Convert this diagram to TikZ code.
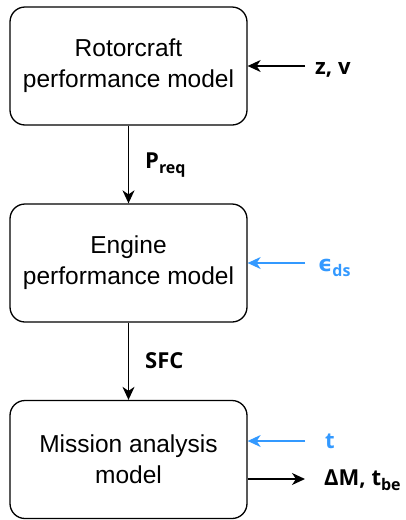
\documentclass[tikz,border=0pt]{standalone}
\usepackage{fontspec}
\setmainfont{Liberation Sans}
\newfontfamily\lblfont{Open Sans}
\newfontfamily\epsfont{DejaVu Sans}
\usetikzlibrary{arrows.meta}
\definecolor{dioblue}{RGB}{51,153,255}
\newcommand{\mysub}[1]{\raisebox{-5pt}{\fontsize{16}{16}\selectfont #1}}
\begin{document}
\begin{tikzpicture}[x=1pt,y=-1pt,
  box/.style={draw=black, line width=1.3pt, rounded corners=15pt, minimum width=237pt, minimum height=118pt, align=center, inner sep=0pt, font=\fontsize{24.5}{31}\selectfont},
  lbl/.style={anchor=base west, inner sep=0pt, font=\lblfont\bfseries\fontsize{22}{24}\selectfont},
  conn/.style={line width=1.3pt, -{Stealth[length=13pt,width=12pt,inset=4pt]}}]
\useasboundingbox (0,0) rectangle (406,520);
\node[box] (rot) at (128.5,66) {Rotorcraft\\performance model};
\node[box] (eng) at (128.5,263) {Engine\\performance model};
\node[box] (mis) at (128.5,459.5) {Mission analysis\\model};
\coordinate (zvin) at (305,66);
\coordinate (epsin) at (305,263);
\coordinate (tin) at (305,441);
\coordinate (out) at (305,479);
\node[lbl] (zv) at (315,74) {z, v};
\node[lbl] (preq) at (145,168) {P\mysub{req}};
\node[lbl, text=dioblue] (eps) at (318,271) {{\epsfont\bfseries ϵ}\mysub{ds}};
\node[lbl] (sfc) at (145,368) {SFC};
\node[lbl, text=dioblue] (t) at (325,448) {t};
\node[lbl] (dm) at (324,485) {ΔM, t\mysub{be}};
\draw[conn] (zvin) -- (rot.east);
\draw[conn] (rot.south) -- (eng.north);
\draw[conn, draw=dioblue, fill=dioblue] (epsin) -- (eng.east);
\draw[conn] (eng.south) -- (mis.north);
\draw[conn, draw=dioblue, fill=dioblue] (tin) -- (mis.east |- tin);
\draw[conn] (mis.east |- out) -- (out);
\end{tikzpicture}
\end{document}
